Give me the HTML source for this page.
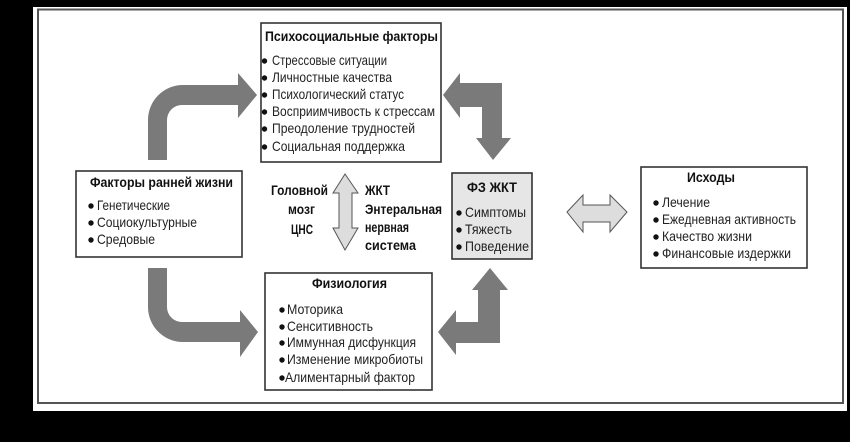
<!DOCTYPE html>
<html><head><meta charset="utf-8"><style>
html,body{margin:0;padding:0;background:#000;width:850px;height:442px;overflow:hidden}
svg{display:block}
text{font-family:"Liberation Sans Narrow","Liberation Sans",sans-serif;font-size:14px;fill:#222}
.b{font-weight:bold;fill:#111}
</style></head><body>
<svg width="850" height="442" viewBox="0 0 850 442" xmlns="http://www.w3.org/2000/svg">
<rect x="0" y="0" width="850" height="442" fill="#000"/>
<rect x="33" y="7" width="814" height="404" fill="#fff"/>
<rect x="38" y="9.5" width="805" height="393.5" fill="none" stroke="#555" stroke-width="2"/>

<!-- gray arrows -->
<g fill="#7a7a7a">
<path d="M148,160 V120 A35,35 0 0 1 183,85 H238 V73 L257,95 L238,118 V105 H182 A15,15 0 0 0 167,120 V160 Z"/>
<path d="M148,268 V307 A35,35 0 0 0 183,342 H240 V357 L258,332 L240,310 V322 H182 A15,15 0 0 1 167,307 V268 Z"/>
<polygon points="443,95 460,73 460,83 502,83 502,138 511,138 493,160 476,138 482,138 482,107 460,107 460,118"/>
<polygon points="490,268 508,290 500,290 500,343 456,343 456,355 438,332 456,310 456,322 478,322 478,290 472,290"/>
</g>

<!-- double arrows -->
<polygon points="345,174 358,193 352,193 352,228 358,228 345,250 333,228 339,228 339,193 333,193" fill="#ddd" stroke="#555" stroke-width="1"/>
<polygon points="567,212 583,195 583,205 610,205 610,195 627,212 610,232 610,222 583,222 583,232" fill="#ddd" stroke="#555" stroke-width="1"/>

<!-- Psychosocial box -->
<rect x="261" y="23" width="180" height="139" fill="#fff" stroke="#333" stroke-width="1.6"/>
<text class="b" x="265" y="41" textLength="173" lengthAdjust="spacingAndGlyphs">Психосоциальные факторы</text>
<g fill="#111">
<circle cx="264.5" cy="61" r="2.7"/><circle cx="264.5" cy="78" r="2.7"/><circle cx="264.5" cy="95" r="2.7"/>
<circle cx="264.5" cy="112" r="2.7"/><circle cx="264.5" cy="129" r="2.7"/><circle cx="264.5" cy="147" r="2.7"/>
</g>
<text x="272" y="65" textLength="115" lengthAdjust="spacingAndGlyphs">Стрессовые ситуации</text>
<text x="272" y="82" textLength="120" lengthAdjust="spacingAndGlyphs">Личностные качества</text>
<text x="272" y="99" textLength="132" lengthAdjust="spacingAndGlyphs">Психологический статус</text>
<text x="272" y="116" textLength="163" lengthAdjust="spacingAndGlyphs">Восприимчивость к стрессам</text>
<text x="272" y="133" textLength="143" lengthAdjust="spacingAndGlyphs">Преодоление трудностей</text>
<text x="272" y="151" textLength="133" lengthAdjust="spacingAndGlyphs">Социальная поддержка</text>

<!-- Early life box -->
<rect x="76" y="171" width="166" height="86" fill="#fff" stroke="#333" stroke-width="1.6"/>
<text class="b" x="90" y="187" textLength="143" lengthAdjust="spacingAndGlyphs">Факторы ранней жизни</text>
<g fill="#111"><circle cx="91" cy="206" r="2.7"/><circle cx="91" cy="223" r="2.7"/><circle cx="91" cy="240" r="2.7"/></g>
<text x="97" y="210" textLength="73" lengthAdjust="spacingAndGlyphs">Генетические</text>
<text x="97" y="227" textLength="100" lengthAdjust="spacingAndGlyphs">Социокультурные</text>
<text x="97" y="244" textLength="58" lengthAdjust="spacingAndGlyphs">Средовые</text>

<!-- Center labels -->
<text class="b" x="271" y="195" textLength="57" lengthAdjust="spacingAndGlyphs">Головной</text>
<text class="b" x="288" y="214" textLength="27" lengthAdjust="spacingAndGlyphs">мозг</text>
<text class="b" x="291" y="234" textLength="22" lengthAdjust="spacingAndGlyphs">ЦНС</text>
<text class="b" x="365" y="195" textLength="25" lengthAdjust="spacingAndGlyphs">ЖКТ</text>
<text class="b" x="365" y="214" textLength="77" lengthAdjust="spacingAndGlyphs">Энтеральная</text>
<text class="b" x="365" y="232" textLength="44" lengthAdjust="spacingAndGlyphs">нервная</text>
<text class="b" x="365" y="250" textLength="51" lengthAdjust="spacingAndGlyphs">система</text>

<!-- FZ box -->
<rect x="452" y="173" width="80" height="86" fill="#e6e6e6" stroke="#333" stroke-width="1.6"/>
<text class="b" x="467" y="192" textLength="50" lengthAdjust="spacingAndGlyphs">ФЗ ЖКТ</text>
<g fill="#111"><circle cx="459" cy="213" r="2.7"/><circle cx="459" cy="230" r="2.7"/><circle cx="459" cy="247" r="2.7"/></g>
<text x="465" y="217" textLength="61" lengthAdjust="spacingAndGlyphs">Симптомы</text>
<text x="465" y="234" textLength="47" lengthAdjust="spacingAndGlyphs">Тяжесть</text>
<text x="465" y="251" textLength="64" lengthAdjust="spacingAndGlyphs">Поведение</text>

<!-- Physiology box -->
<rect x="265" y="273" width="167" height="117" fill="#fff" stroke="#333" stroke-width="1.6"/>
<text class="b" x="312" y="288" textLength="75" lengthAdjust="spacingAndGlyphs">Физиология</text>
<g fill="#111">
<circle cx="282" cy="310" r="2.7"/><circle cx="282" cy="327" r="2.7"/><circle cx="282" cy="343" r="2.7"/>
<circle cx="282" cy="360" r="2.7"/><circle cx="282" cy="378" r="2.7"/>
</g>
<text x="287" y="314" textLength="56" lengthAdjust="spacingAndGlyphs">Моторика</text>
<text x="287" y="331" textLength="86" lengthAdjust="spacingAndGlyphs">Сенситивность</text>
<text x="287" y="347" textLength="129" lengthAdjust="spacingAndGlyphs">Иммунная дисфункция</text>
<text x="287" y="364" textLength="136" lengthAdjust="spacingAndGlyphs">Изменение микробиоты</text>
<text x="285" y="382" textLength="130" lengthAdjust="spacingAndGlyphs">Алиментарный фактор</text>

<!-- Outcomes box -->
<rect x="641" y="167" width="166" height="101" fill="#fff" stroke="#333" stroke-width="1.6"/>
<text class="b" x="687" y="182" textLength="48" lengthAdjust="spacingAndGlyphs">Исходы</text>
<g fill="#111">
<circle cx="656" cy="203" r="2.7"/><circle cx="656" cy="220" r="2.7"/><circle cx="656" cy="237" r="2.7"/><circle cx="656" cy="254" r="2.7"/>
</g>
<text x="662" y="207" textLength="48" lengthAdjust="spacingAndGlyphs">Лечение</text>
<text x="662" y="224" textLength="134" lengthAdjust="spacingAndGlyphs">Ежедневная активность</text>
<text x="662" y="241" textLength="90" lengthAdjust="spacingAndGlyphs">Качество жизни</text>
<text x="662" y="258" textLength="129" lengthAdjust="spacingAndGlyphs">Финансовые издержки</text>
</svg>
</body></html>
